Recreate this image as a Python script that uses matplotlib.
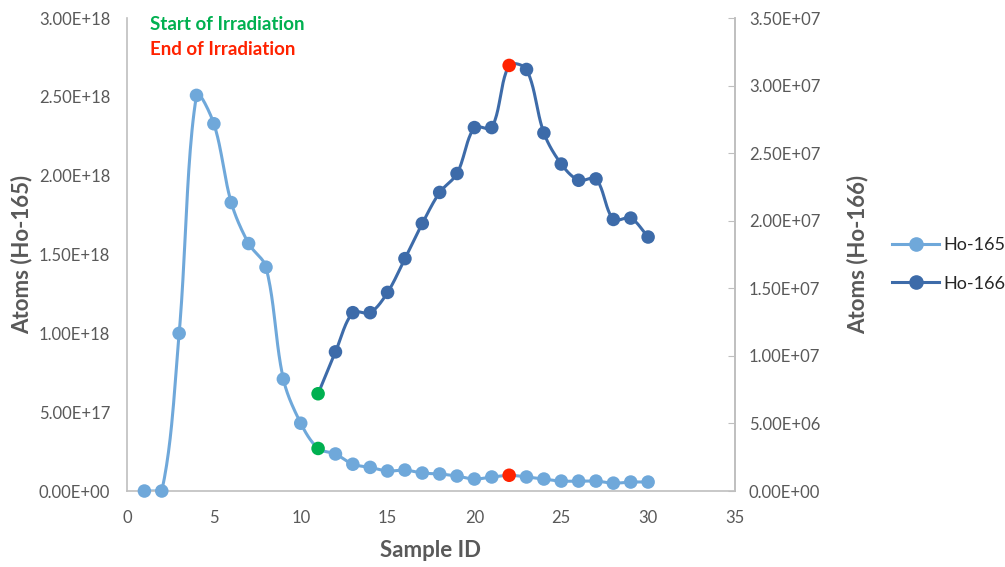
import numpy as np
import matplotlib
matplotlib.use("Agg")
import matplotlib.pyplot as plt
from matplotlib.ticker import FuncFormatter, MultipleLocator
from matplotlib.lines import Line2D

# data
sample_165 = list(range(1, 31))
ho165 = [0, 0, 1.00e18, 2.51e18, 2.33e18, 1.83e18, 1.57e18, 1.42e18, 0.71e18, 0.43e18,
         0.27e18, 0.235e18, 0.17e18, 0.15e18, 0.127e18, 0.133e18, 0.114e18, 0.108e18,
         0.095e18, 0.076e18, 0.089e18, 0.10e18, 0.089e18, 0.076e18, 0.063e18, 0.063e18,
         0.063e18, 0.05e18, 0.057e18, 0.057e18]
sample_166 = list(range(11, 31))
ho166 = [7.2e6, 1.03e7, 1.32e7, 1.32e7, 1.47e7, 1.72e7, 1.98e7, 2.21e7, 2.35e7, 2.69e7,
         2.69e7, 3.15e7, 3.12e7, 2.65e7, 2.42e7, 2.30e7, 2.31e7, 2.01e7, 2.02e7, 1.88e7]
start_id = 11
end_id = 22

c165 = "#6FA8DA"
c166 = "#3D6BA9"
green = "#00B050"
red = "#FF2200"
grey = "#595959"
font = "Lato"

XMAX = 35
Y1MAX = 3.0e18
Y2MAX = 3.5e7


def smooth(x, y, ymax, n=24):
    # Excel-like smoothed line, built in screen-proportional units
    sxf, syf = 608 / XMAX, 473 / ymax
    P = np.column_stack([np.asarray(x, float) * sxf, np.asarray(y, float) * syf])
    P = np.vstack([P[0], P, P[-1]])
    out = []
    t = np.linspace(0, 1, n)[:, None]
    for i in range(1, len(P) - 2):
        p0, p3 = P[i], P[i + 1]
        la = np.linalg.norm(P[i] - P[i - 1])
        lb = np.linalg.norm(P[i + 1] - P[i])
        lc = np.linalg.norm(P[i + 2] - P[i + 1])
        d0 = P[i + 1] - P[i - 1]
        d1 = P[i + 2] - P[i]
        f0 = lb / (la + lb) / 3 if la + lb > 0 else 0
        f1 = lb / (lb + lc) / 3 if lb + lc > 0 else 0
        p1 = p0 + d0 * f0
        p2 = p3 - d1 * f1
        b = (1 - t) ** 3 * p0 + 3 * (1 - t) ** 2 * t * p1 + 3 * (1 - t) * t ** 2 * p2 + t ** 3 * p3
        out.append(b)
    out = np.vstack(out)
    return out[:, 0] / sxf, out[:, 1] / syf


fig = plt.figure(figsize=(10.05, 5.67), dpi=100)
ax = fig.add_axes([0.1264, 0.134, 0.6049, 0.834])
ax2 = ax.twinx()

sx, sy = smooth(sample_165, ho165, Y1MAX)
ax.plot(sx, np.clip(sy, 0, None), color=c165, lw=2.2, zorder=2)
cols = [green if s == start_id else red if s == end_id else c165 for s in sample_165]
ax.scatter(sample_165, ho165, s=95, c=cols, zorder=3, linewidths=0, clip_on=False)

sx, sy = smooth(sample_166, ho166, Y2MAX)
ax2.plot(sx, sy, color=c166, lw=2.2, zorder=2)
cols = [green if s == start_id else red if s == end_id else c166 for s in sample_166]
ax2.scatter(sample_166, ho166, s=95, c=cols, zorder=3, linewidths=0)

ax.set_xlim(0, XMAX)
ax.set_ylim(0, Y1MAX)
ax2.set_ylim(0, Y2MAX)
ax.xaxis.set_major_locator(MultipleLocator(5))
ax.yaxis.set_major_locator(MultipleLocator(0.5e18))
ax2.yaxis.set_major_locator(MultipleLocator(0.5e7))
fmt = FuncFormatter(lambda v, p: "{:.2E}".format(v))
ax.yaxis.set_major_formatter(fmt)
ax2.yaxis.set_major_formatter(fmt)

for a in (ax, ax2):
    for s in a.spines.values():
        s.set_color("#BFBFBF")
        s.set_linewidth(1.2)
    a.spines["top"].set_visible(False)
    a.tick_params(colors=grey, labelsize=12)
    for lab in a.get_xticklabels() + a.get_yticklabels():
        lab.set_family(font)
ax.tick_params(axis="y", length=0, pad=12)
ax.tick_params(axis="x", length=0, pad=14)
ax2.tick_params(axis="y", direction="in", length=5, color="#BFBFBF", pad=10)
ax2.spines["left"].set_visible(False)
ax2.spines["bottom"].set_visible(False)

lab_kw = dict(fontsize=16, fontweight="bold", color=grey, family=font)
ax.set_xlabel("Sample ID", va="center", **lab_kw)
ax.xaxis.set_label_coords(0.5, -0.125)
ax.set_ylabel("Atoms (Ho-165)", va="center", **lab_kw)
ax.yaxis.set_label_coords(-0.173, 0.5)
ax2.set_ylabel("Atoms (Ho-166)", va="center", **lab_kw)
ax2.yaxis.set_label_coords(1.202, 0.5)

fig.text(0.149, 0.957, "Start of Irradiation", color=green, fontsize=13.5, fontweight="bold",
         family=font, va="center")
fig.text(0.149, 0.912, "End of Irradiation", color=red, fontsize=13.5, fontweight="bold",
         family=font, va="center")

handles = [Line2D([], [], color=c165, lw=2.2, marker="o", ms=9.5, mec=c165),
           Line2D([], [], color=c166, lw=2.2, marker="o", ms=9.5, mec=c166)]
leg = fig.legend(handles, ["Ho-165", "Ho-166"], loc="center left", bbox_to_anchor=(0.879, 0.534),
                 frameon=False, labelspacing=1.25, handlelength=2.6, handletextpad=0.2,
                 borderpad=0, prop={"family": font, "size": 13})
for t in leg.get_texts():
    t.set_color("#262626")

fig.savefig("out.png", dpi=100)
